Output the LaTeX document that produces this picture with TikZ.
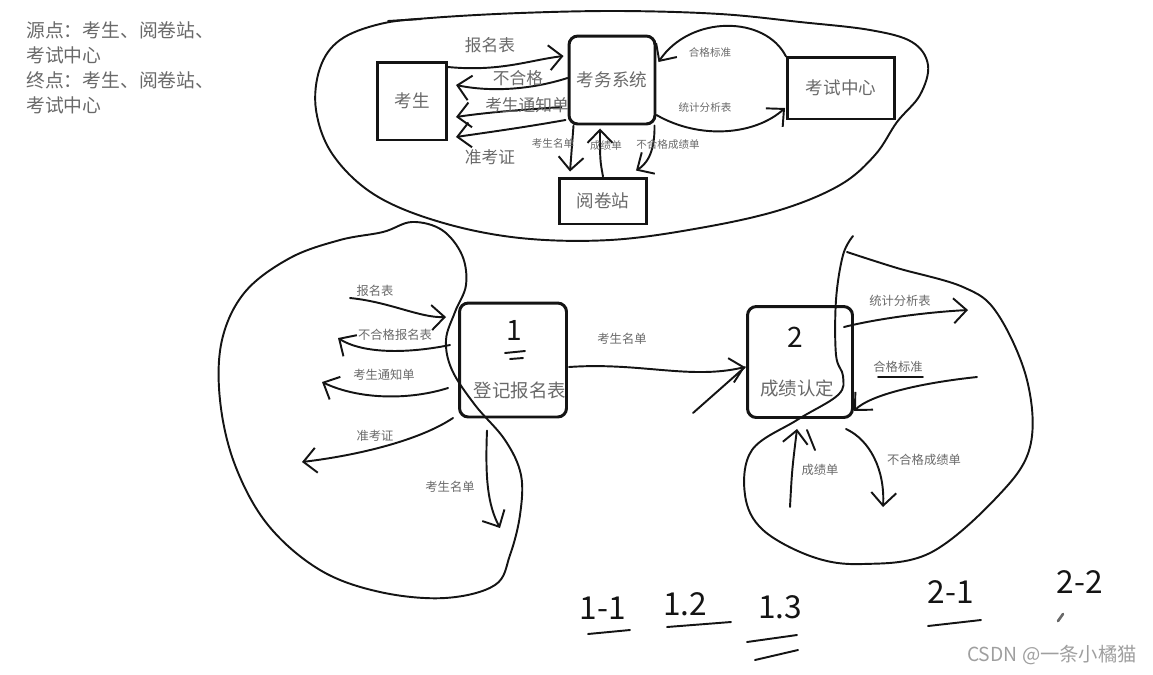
\documentclass[tikz,border=0pt]{standalone}
\usepackage{fontspec}
\setmainfont{Noto Sans CJK SC}
\usetikzlibrary{arrows.meta,calc}
\definecolor{ink}{RGB}{20,20,20}
\definecolor{pencil}{RGB}{105,105,105}
\tikzset{
  >={Straight Barb[length=2.6mm,width=5mm]},
  hand/.style={draw=ink,line width=1.1pt,line cap=round,line join=round},
  flow/.style={hand,->},
  ent/.style={draw=ink,line width=1.7pt,inner sep=0pt,text=pencil,
    font=\fontsize{10}{12}\selectfont},
  proc/.style={ent,rounded corners=5pt},
  tag/.style={text=pencil,font=\fontsize{9.5}{11}\selectfont,inner sep=0pt},
  small tag/.style={text=pencil,font=\fontsize{6}{7}\selectfont,inner sep=0pt},
  digit/.style={text=ink,font=\fontsize{18}{20}\selectfont,inner sep=0pt},
}
\begin{document}
\begin{tikzpicture}[x=0.02cm,y=-0.02cm]
\useasboundingbox (0,0) rectangle (1153,674);

\node[tag,anchor=north west,align=left,font=\fontsize{10.7}{14.2}\selectfont] (note) at (26,21)
  {源点：考生、阅卷站、\\考试中心\\终点：考生、阅卷站、\\考试中心};

% context level
\node[ent,minimum width=1.38cm,minimum height=1.56cm] (ks) at (412,101) {考生};
\node[proc,minimum width=1.72cm,minimum height=1.76cm] (kw) at (612,80) {考务系统};
\node[ent,minimum width=2.14cm,minimum height=1.24cm] (ksc) at (841,88) {考试中心};
\node[ent,minimum width=1.74cm,minimum height=0.92cm] (yjz) at (603,201) {阅卷站};

\draw[hand] plot[smooth cycle,tension=0.6] coordinates {(800,22) (870,30) (912,42) (928,65)
  (920,95) (897,122) (875,155) (840,185) (780,210) (700,228) (610,240) (520,238) (440,222)
  (375,195) (333,155) (316,110) (320,68) (340,40) (380,24) (430,18) (520,13) (620,11) (720,14)};
\draw[hand] (388,21) -- (421,19);

\draw[flow] ($(ks.east)+(0,-34)$) .. controls (500,72) and (530,60) .. ($(kw.west)+(-4,-24)$);
\node[tag] (l1) at (490,45) {报名表};
\draw[flow] ($(kw.west)+(0,-2)$) .. controls (530,90) and (490,92) .. ($(ks.east)+(8,-16)$);
\node[tag] (l2) at (518,78) {不合格};
\draw[flow] ($(kw.west)+(-6,27)$) .. controls (520,110) and (490,112) .. ($(ks.east)+(8,16)$);
\node[tag] (l3) at (527,105) {考生通知单};
\draw[flow] ($(kw.west)+(-2,40)$) .. controls (520,128) and (490,132) .. ($(ks.east)+(8,36)$);
\node[tag] (l4) at (490,157) {准考证};

\draw[flow] ($(kw.south west)+(6,0)$) -- ($(yjz.north west)+(12,-5)$);
\node[small tag] (l5) at (553,143) {考生名单};
\draw[flow] (yjz.north) .. controls (600,160) .. ($(kw.south)+(-12,3)$);
\node[small tag] (l6) at (606,146) {成绩单};
\draw[flow] ($(kw.south east)+(-2,0)$) .. controls (655,155) and (645,165) .. ($(yjz.north east)+(-12,-6)$);
\node[small tag] (l7) at (668,145) {不合格成绩单};

\draw[flow] ($(ksc.north west)+(0,1)$) .. controls (765,15) and (690,15) .. ($(kw.east)+(2,-18)$);
\node[small tag] (l8) at (710,52) {合格标准};
\draw[flow] ($(kw.east)+(0,35)$) .. controls (700,140) and (755,135) .. ($(ksc.west)+(-1,20)$);
\node[small tag] (l9) at (705,107) {统计分析表};

% process 1
\node[proc,minimum width=2.14cm,minimum height=2.28cm] (djb) at (513,360) {};
\node[tag,font=\fontsize{10.5}{12}\selectfont] (djbt) at (520,390) {登记报名表};
\node[digit,font=\fontsize{16}{18}\selectfont] (n1) at (514,330) {1};
\draw[hand] (505,353) -- (525,351) (510,359) -- (523,358);

\draw[hand] plot[smooth cycle,tension=0.6] coordinates {(383,232) (412,222) (442,230) (462,255)
  (466,285) (455,312) (446,340) (452,370) (475,405) (505,440) (521,475) (520,515) (510,555)
  (495,585) (445,598) (380,592) (320,570) (268,525) (235,465) (220,400) (222,340) (245,292)
  (290,258) (340,240)};

\coordinate (a1) at (350,298);
\coordinate (a2) at (338,338);
\coordinate (a3) at (322,382);
\coordinate (a4) at (302,462);
\coordinate (a5) at (500,528);
\draw[flow] (a1) .. controls (390,302) and (420,318) .. ($(djb.west)+(-12,-43)$);
\node[small tag,font=\fontsize{7}{8}\selectfont] (m1) at (375,291) {报名表};
\draw[flow] ($(djb.west)+(-8,-15)$) .. controls (400,355) and (360,352) .. (a2);
\node[small tag,font=\fontsize{7}{8}\selectfont] (m2) at (395,335) {不合格报名表};
\draw[flow] ($(djb.west)+(-10,28)$) .. controls (410,400) and (360,400) .. (a3);
\node[small tag,font=\fontsize{7}{8}\selectfont] (m3) at (384,375) {考生通知单};
\draw[flow] ($(djb.west)+(-5,58)$) .. controls (420,440) and (360,455) .. (a4);
\node[small tag,font=\fontsize{7}{8}\selectfont] (m4) at (375,436) {准考证};
\draw[flow] ($(djb.south)+(-26,12)$) .. controls (485,480) and (488,505) .. (a5);
\node[small tag,font=\fontsize{7}{8}\selectfont] (m5) at (450,487) {考生名单};

% process 2
\node[proc,minimum width=2.1cm,minimum height=2.22cm] (cj) at (800,362) {};
\node[tag,font=\fontsize{10.5}{12}\selectfont] (cjt) at (797,388) {成绩认定};
\node[digit,font=\fontsize{16}{18}\selectfont] (n2) at (795,337) {2};

\coordinate (a6) at (693,413);
\draw[flow] ($(djb.east)+(1,7)$) .. controls (640,362) and (690,380) .. ($(cj.west)+(-1,5)$);
\draw[hand] (a6) -- ($(cj.west)+(-1,5)$);
\node[small tag,font=\fontsize{7}{8}\selectfont] (m6) at (622,339) {考生名单};

\draw[hand] plot[smooth,tension=0.6] coordinates {(853,236) (843,255) (836,300) (836,355)
  (843,376) (838,395) (797,420) (752,450) (745,495) (763,530) (813,557) (863,564) (930,553)
  (997,497) (1030,447) (1027,380) (997,313) (963,287) (897,268) (847,252)};

\coordinate (b1) at (968,310);
\coordinate (b2) at (977,377);
\coordinate (b3) at (790,507);
\coordinate (b4) at (883,507);
\draw[flow] ($(cj.east)+(-10,-35)$) .. controls (880,318) and (930,312) .. (b1);
\node[small tag,font=\fontsize{7}{8}\selectfont] (r1) at (900,301) {统计分析表};
\draw[flow] (b2) .. controls (920,383) and (870,395) .. ($(cj.south east)+(0,-8)$);
\node[small tag,font=\fontsize{7}{8}\selectfont] (r2) at (898,367) {合格标准};
\draw[hand] ($(r2.south west)+(5,4)$) -- ($(r2.south east)+(0,4)$);
\draw[flow] (b3) .. controls (792,470) .. ($(cj.south)+(-3,10)$);
\draw[hand] (807,430) -- (815,450);
\node[small tag,font=\fontsize{7}{8}\selectfont] (r3) at (820,470) {成绩单};
\draw[flow] ($(cj.south east)+(-8,10)$) .. controls (870,440) and (885,470) .. (b4);
\node[small tag,font=\fontsize{7}{8}\selectfont] (r4) at (924,460) {不合格成绩单};

% level numbers
\node[digit] (s11) at (603,608) {1-1};
\draw[hand] (588,634) -- (630,630);
\node[digit] (s12) at (685,604) {1.2};
\draw[hand] (667,627) -- (731,622);
\node[digit] (s13) at (780,607) {1.3};
\draw[hand] (747,642) -- (797,635) (755,660) -- (798,650);
\node[digit] (s21) at (951,592) {2-1};
\draw[hand] (928,626) -- (981,620);
\node[digit] (s22) at (1080,582) {2-2};
\draw[hand,draw=pencil,line width=1.5pt] (1058,621) -- (1063,614);

\node[text=gray!75,font=\fontsize{11}{13}\selectfont,inner sep=0pt] (wm) at (1052,655) {CSDN @一条小橘猫};
\end{tikzpicture}
\end{document}
